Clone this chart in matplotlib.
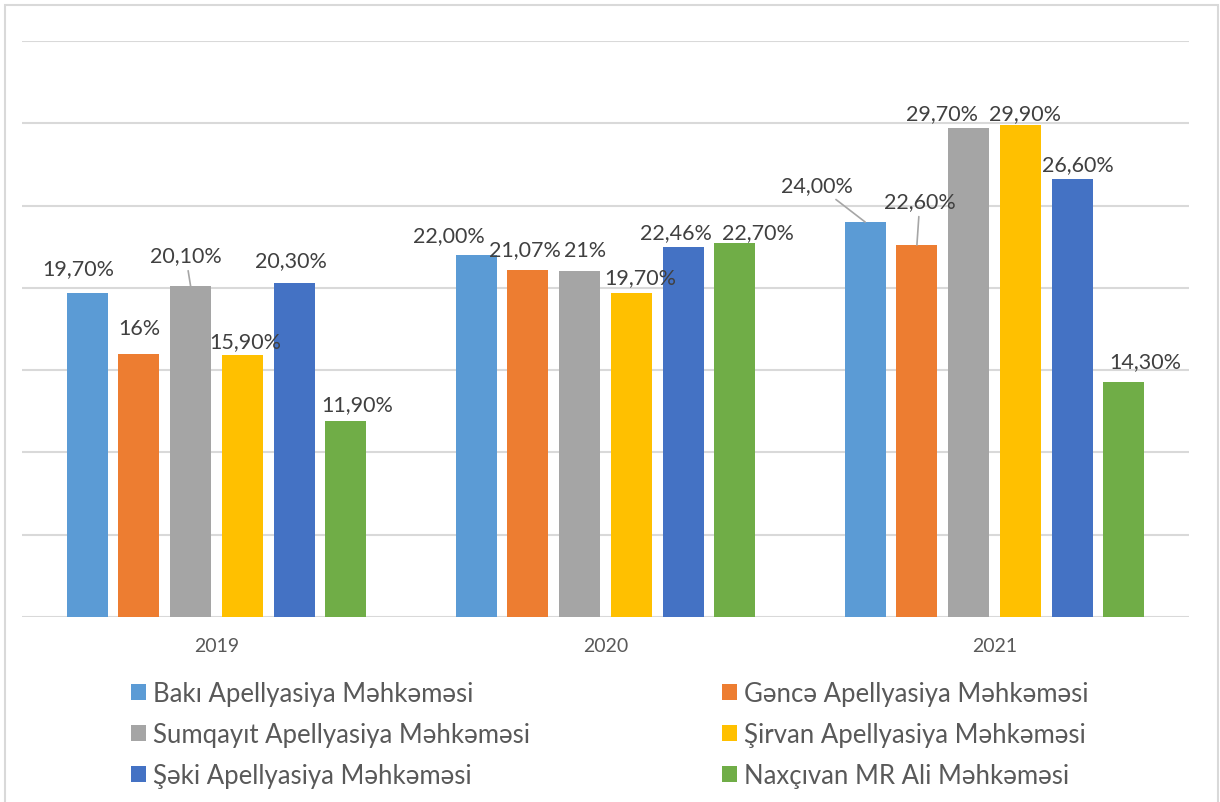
import matplotlib
matplotlib.use("Agg")
import matplotlib.pyplot as plt
from matplotlib.patches import Patch, Rectangle
import numpy as np

plt.rcParams['font.family'] = ['Lato', 'DejaVu Sans']

years = ["2019", "2020", "2021"]
series = ["Bakı Apellyasiya Məhkəməsi", "Gəncə Apellyasiya Məhkəməsi",
          "Sumqayıt Apellyasiya Məhkəməsi", "Şirvan Apellyasiya Məhkəməsi",
          "Şəki Apellyasiya Məhkəməsi", "Naxçıvan MR Ali Məhkəməsi"]
baki = [19.70, 22.00, 24.00]
gence = [16.00, 21.07, 22.60]
sumqayit = [20.10, 21.00, 29.70]
sirvan = [15.90, 19.70, 29.90]
seki = [20.30, 22.46, 26.60]
naxcivan = [11.90, 22.70, 14.30]
labels = [["19,70%", "22,00%", "24,00%"],
          ["16%", "21,07%", "22,60%"],
          ["20,10%", "21%", "29,70%"],
          ["15,90%", "19,70%", "29,90%"],
          ["20,30%", "22,46%", "26,60%"],
          ["11,90%", "22,70%", "14,30%"]]
values = [baki, gence, sumqayit, sirvan, seki, naxcivan]
colors = ["#5B9BD5", "#ED7D31", "#A5A5A5", "#FFC000", "#4472C4", "#70AD47"]

# label offsets in pixels (dx, dy) relative to bar top centre; leader flag
offsets = [
    [(-9, 25, False), (-27, 20, False), (-48, 37, True)],
    [(0, 26, False), (-3, 21, False), (3, 44, True)],
    [(-5, 31, True), (5, 21, False), (-27, 15, False)],
    [(3, 14, False), (9, 16, False), (5, 12, False)],
    [(-3, 23, False), (-7, 15, False), (6, 15, False)],
    [(11, 17, False), (23, 11, False), (21, 21, False)],
]

W, H = 1220, 803
fig = plt.figure(figsize=(W / 100, H / 100), dpi=100)
fig.patch.set_facecolor("white")
fig.patches.append(Rectangle((5 / W, -0.01), (1218 - 5) / W, 1 - 6 / H + 0.01,
                             transform=fig.transFigure, fill=False,
                             edgecolor="#D9D9D9", lw=1.5))

ax = fig.add_axes([22 / W, 1 - 618 / H, (1189 - 22) / W, (618 - 42) / H])
ax.set_ylim(0, 35)
ax.set_xlim(-0.5, 2.5)
ax.set_yticks(np.arange(0, 36, 5))
ax.yaxis.grid(True, color="#D9D9D9", lw=1.5)
ax.set_axisbelow(True)
for s in ax.spines.values():
    s.set_visible(False)
ax.tick_params(axis="y", left=False, labelleft=False)
ax.tick_params(axis="x", bottom=False, labelsize=14, labelcolor="#595959", pad=11)

x = np.arange(len(years))
step = 0.133
width = 0.105
handles = []
for i, (vals, col, name) in enumerate(zip(values, colors, series)):
    pos = x + (i - 2.5) * step
    ax.bar(pos, vals, width=width, color=col, zorder=2)
    handles.append(Patch(facecolor=col, label=name))
    for j in range(len(years)):
        dx, dy, lead = offsets[i][j]
        kw = {}
        if lead:
            kw["arrowprops"] = dict(arrowstyle="-", color="#A6A6A6", lw=1.2,
                                    shrinkA=2, shrinkB=0)
        ax.annotate(labels[i][j], xy=(pos[j], vals[j]), xytext=(dx, dy),
                    textcoords="offset pixels", ha="center", va="center",
                    fontsize=15.5, color="#404040", zorder=3, **kw)

ax.set_xticks(x)
ax.set_xticklabels(years)

legkw = dict(frameon=False, fontsize=18.5, labelcolor="#595959",
             handlelength=0.58, handleheight=0.58, handletextpad=0.28,
             labelspacing=0.63, borderpad=0, borderaxespad=0, loc="upper left")
fig.legend(handles=[handles[0], handles[2], handles[4]],
           bbox_to_anchor=(131 / W, 1 - 682 / H), **legkw)
fig.legend(handles=[handles[1], handles[3], handles[5]],
           bbox_to_anchor=(722 / W, 1 - 682 / H), **legkw)

fig.savefig("out.png", dpi=100, facecolor="white")
